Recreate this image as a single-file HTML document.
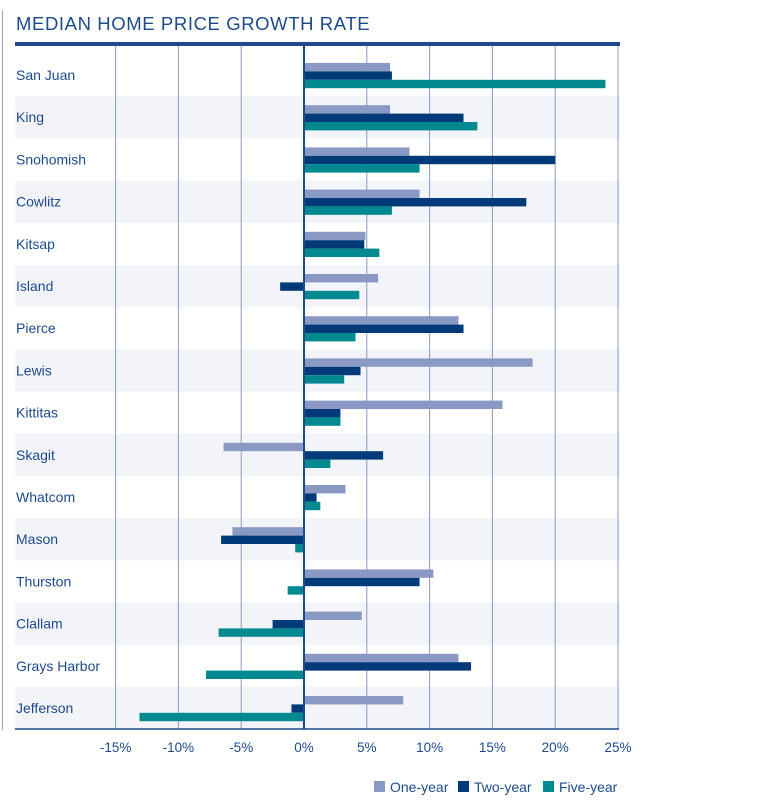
<!DOCTYPE html>
<html><head><meta charset="utf-8"><style>
html,body{margin:0;padding:0;background:#fff;}
svg{display:block;font-family:"Liberation Sans",sans-serif;}
</style></head><body>
<svg width="764" height="810" viewBox="0 0 764 810" xmlns="http://www.w3.org/2000/svg">
<line x1="2.5" y1="10" x2="2.5" y2="730" stroke="#9aa6cc" stroke-width="1"/>
<text x="16" y="30" font-size="18.5" fill="#1d4a8a" letter-spacing="0.6">MEDIAN HOME PRICE GROWTH RATE</text>
<g id="bands"></g>
<g id="grid"></g>
<g id="bars"></g>
<rect x="15" y="42" width="605" height="4" fill="#1d4a8a"/>
<line x1="15" y1="729" x2="619" y2="729" stroke="#1d4a8a" stroke-width="1.5"/>
<line x1="304" y1="46" x2="304" y2="729" stroke="#1d4a8a" stroke-width="2"/>
<g id="labels" font-size="14" fill="#1d4a8a"></g>
<g id="ticks" font-size="13.5" fill="#1d4a8a" text-anchor="middle"></g>
<g font-size="14" fill="#1d4a8a">
<rect x="374" y="781" width="11" height="11" fill="#8a98c4"/><text x="390" y="792">One-year</text>
<rect x="458" y="781" width="11" height="11" fill="#003a78"/><text x="474" y="792">Two-year</text>
<rect x="543" y="781" width="11" height="11" fill="#00898f"/><text x="559" y="792">Five-year</text>
</g>
</svg>
<script>
const ns="http://www.w3.org/2000/svg";
const d=[["San Juan",6.85,7.0,24.0],["King",6.85,12.7,13.8],["Snohomish",8.4,20,9.2],["Cowlitz",9.2,17.7,7.0],["Kitsap",4.9,4.8,6.0],["Island",5.9,-1.9,4.4],["Pierce",12.3,12.7,4.1],["Lewis",18.2,4.5,3.2],["Kittitas",15.8,2.9,2.9],["Skagit",-6.4,6.3,2.1],["Whatcom",3.3,1.0,1.3],["Mason",-5.7,-6.6,-0.7],["Thurston",10.3,9.2,-1.3],["Clallam",4.6,-2.5,-6.8],["Grays Harbor",12.3,13.3,-7.8],["Jefferson",7.9,-1.0,-13.1]];
const cols=["#8a98c4","#003a78","#00898f"];
const X=v=>304+v*12.56;
function el(p,t,a,txt){const e=document.createElementNS(ns,t);for(const k in a)e.setAttribute(k,a[k]);if(txt)e.textContent=txt;document.getElementById(p).appendChild(e);}
d.forEach((r,i)=>{const top=54+42.2*i;
 if(i%2)el("bands","rect",{x:15,y:top,width:605,height:42.2,fill:"#f3f4f9"});
 el("labels","text",{x:16,y:top+26},r[0]);
 for(let j=0;j<3;j++){const a=X(0),b=X(r[j+1]);el("bars","rect",{x:Math.min(a,b),y:top+9+j*8.4,width:Math.abs(b-a),height:8.4,fill:cols[j]});}
});
[-15,-10,-5,5,10,15,20,25].forEach(v=>el("grid","line",{x1:X(v),y1:46,x2:X(v),y2:729,stroke:"#8a98c4","stroke-width":1}));
[-15,-10,-5,0,5,10,15,20,25].forEach(v=>el("ticks","text",{x:X(v),y:752},v+"%"));
</script>
</body></html>
